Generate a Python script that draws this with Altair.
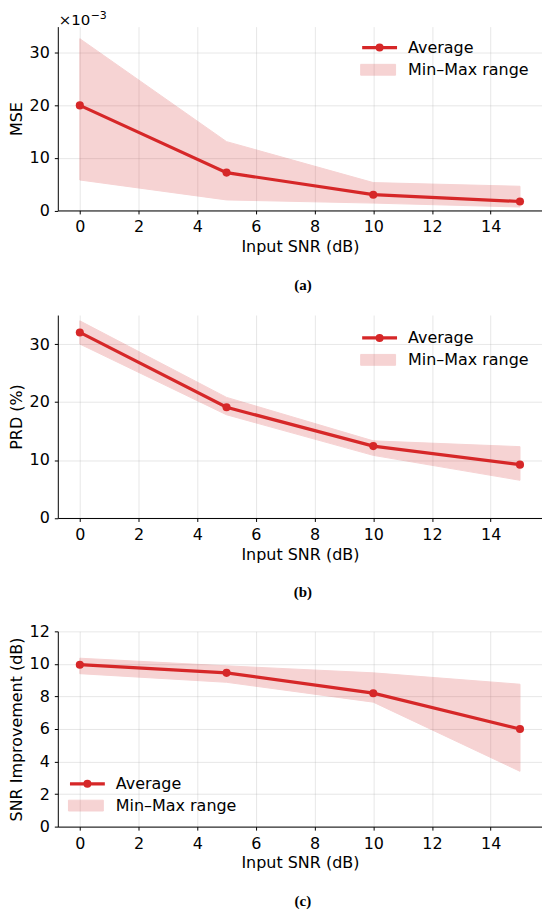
import altair as alt
import pandas as pd

# ---------------- data ----------------
snr = [0, 5, 10, 15]

# MSE in units of 1e-3
mse_avg = [20.0, 7.2, 3.0, 1.7]
mse_min = [5.8, 2.0, 1.4, 0.65]
mse_max = [32.7, 13.1, 5.3, 4.6]

prd_avg = [32.0, 19.1, 12.4, 9.2]
prd_min = [30.0, 17.8, 10.8, 6.5]
prd_max = [34.0, 20.8, 13.3, 12.3]

imp_avg = [9.95, 9.45, 8.2, 6.0]
imp_min = [9.4, 8.87, 7.65, 3.4]
imp_max = [10.35, 9.88, 9.45, 8.75]

x_ticks = [0, 2, 4, 6, 8, 10, 12, 14]
ticks_35 = [0, 10, 20, 30]
ticks_12 = [0, 2, 4, 6, 8, 10, 12]

series_names = ["Average"]
band_names = ["Min–Max range"]

RED = "#d62728"
FONT = "DejaVu Sans"
FS = 16
W = 486

LINE_SYMBOL = ("M-1,0L1,0M0.14,0A0.14,0.14,0,1,1,-0.14,0"
               "A0.14,0.14,0,1,1,0.14,0Z")
RECT_SYMBOL = "M-1,-0.31L1,-0.31L1,0.31L-1,0.31Z"


def panel(avg, lo, hi, ytitle, ydomain, yticks, caption, height,
          lx, ly_line, ly_band, offset_text=None):
    df = pd.DataFrame({
        "snr": snr, "avg": avg, "lo": lo, "hi": hi,
        "series": series_names * len(snr),
        "band": band_names * len(snr),
    })
    base = alt.Chart(df)
    xenc = alt.X("snr:Q",
                 scale=alt.Scale(domain=[-0.75, 15.75], nice=False, zero=False),
                 axis=alt.Axis(values=x_ticks, title="Input SNR (dB)"))
    yscale = alt.Scale(domain=ydomain, nice=False, zero=False)
    yaxis = alt.Axis(values=yticks, title=ytitle)

    area = base.mark_area(opacity=0.2, stroke=RED, strokeWidth=1).encode(
        x=xenc,
        y=alt.Y("lo:Q", scale=yscale, axis=yaxis),
        y2="hi:Q",
        fill=alt.Fill("band:N",
                      scale=alt.Scale(domain=band_names, range=[RED]),
                      legend=alt.Legend(orient="none", legendX=lx, legendY=ly_band,
                                        title=None, padding=0,
                                        symbolType=RECT_SYMBOL, symbolSize=1225,
                                        symbolStrokeColor=RED, symbolStrokeWidth=1,
                                        symbolOpacity=0.2,
                                        labelFont=FONT, labelFontSize=FS,
                                        labelColor="black", labelOffset=12)),
    )
    line = base.mark_line(strokeWidth=3.2).encode(
        x=xenc,
        y=alt.Y("avg:Q", scale=yscale, axis=yaxis),
        stroke=alt.Stroke("series:N",
                          scale=alt.Scale(domain=series_names, range=[RED]),
                          legend=alt.Legend(orient="none", legendX=lx, legendY=ly_line,
                                            title=None, padding=0,
                                            symbolType=LINE_SYMBOL, symbolSize=1225,
                                            symbolStrokeColor=RED, symbolStrokeWidth=3.2,
                                            symbolFillColor=RED,
                                            labelFont=FONT, labelFontSize=FS,
                                            labelColor="black", labelOffset=9)),
    )
    pts = base.mark_circle(size=66, color=RED, opacity=1).encode(
        x=xenc,
        y=alt.Y("avg:Q", scale=yscale, axis=yaxis),
    )
    layers = [area, line, pts]
    if offset_text is not None:
        main_txt, sup_txt = offset_text
        txt = alt.Chart(pd.DataFrame({"t": [main_txt]})).mark_text(
            align="left", baseline="middle", font=FONT, fontSize=15, color="black"
        ).encode(x=alt.value(1), y=alt.value(-7), text="t:N")
        sup = alt.Chart(pd.DataFrame({"t": [sup_txt]})).mark_text(
            align="left", baseline="middle", font=FONT, fontSize=11, color="black"
        ).encode(x=alt.value(33), y=alt.value(-10.5), text="t:N")
        layers += [txt, sup]
    return alt.layer(*layers).properties(
        width=W, height=height,
        title=alt.TitleParams(caption, orient="bottom", anchor="middle", frame="group",
                              offset=23, font="Liberation Serif", fontSize=15,
                              fontWeight="bold", color="black", dx=3),
    )


pa = panel(mse_avg, mse_min, mse_max, "MSE", [0, 35], ticks_35, "(a)", 184.5,
           303.5, 1.5, 25.3, offset_text=("×10", "−3"))
pb = panel(prd_avg, prd_min, prd_max, "PRD (%)", [0, 35], ticks_35, "(b)", 203.7,
           303.5, 3.5, 27)
pc = panel(imp_avg, imp_min, imp_max, "SNR Improvement (dB)", [0, 12], ticks_12, "(c)", 196,
           10.2, 133.5, 156.9)

chart = alt.vconcat(pa, pb, pc, spacing=22.5).resolve_scale(
    stroke="independent", fill="independent"
).resolve_legend(
    stroke="independent", fill="independent"
).properties(padding=0).configure_axis(
    labelFont=FONT, titleFont=FONT, labelFontSize=FS, titleFontSize=FS,
    labelColor="black", titleColor="black", titleFontWeight="normal",
    domainColor="black", tickColor="black", domainWidth=1, tickWidth=1,
    tickSize=3.5, labelPadding=5, titlePadding=4, labelFlush=False,
    gridColor="#b0b0b0", gridOpacity=0.3, gridWidth=1,
).configure_axisY(titlePadding=5).configure_view(stroke=None)

chart.save("out.html", embed_options={"renderer": "svg", "actions": False})
